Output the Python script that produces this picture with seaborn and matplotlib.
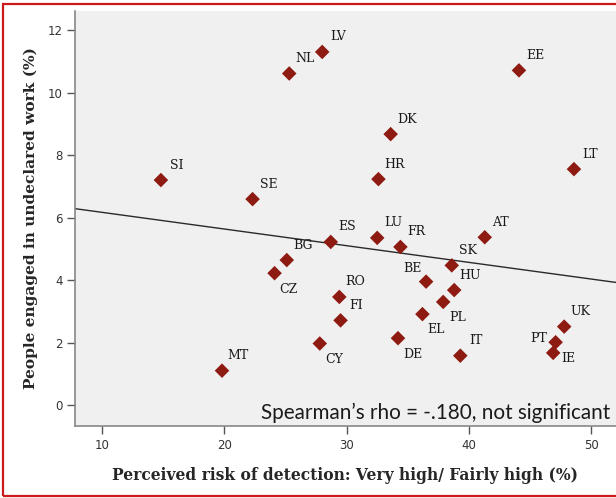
import matplotlib
matplotlib.use("Agg")
import matplotlib.pyplot as plt
import matplotlib.patches as mpatches
import seaborn as sns
import pandas as pd
import numpy as np

countries = ["SI", "SE", "NL", "LV", "DK", "HR", "EE", "LT", "AT", "UK", "PT", "IE",
             "ES", "LU", "FR", "SK", "BG", "CZ", "BE", "HU", "RO", "FI", "PL", "EL",
             "DE", "IT", "CY", "MT"]
risk = [14.8, 22.3, 25.3, 28.0, 33.6, 32.6, 44.1, 48.6, 41.3, 47.8, 47.1, 46.9,
        28.7, 32.5, 34.4, 38.6, 25.1, 24.1, 36.5, 38.8, 29.4, 29.5, 37.9, 36.2,
        34.2, 39.3, 27.8, 19.8]
undeclared = [7.21, 6.60, 10.62, 11.31, 8.68, 7.24, 10.72, 7.56, 5.38, 2.52, 2.02, 1.68,
              5.23, 5.36, 5.07, 4.48, 4.65, 4.23, 3.96, 3.69, 3.47, 2.72, 3.31, 2.92,
              2.15, 1.59, 1.98, 1.11]
x_ticks = [10, 20, 30, 40, 50]
y_ticks = [0, 2, 4, 6, 8, 10, 12]

# label offsets in pixels (style)
label_offsets = {
    "CZ": (14, -16), "PL": (14, -16), "EL": (14, -15), "DE": (15, -16), "CY": (14, -16),
    "IE": (15, -6), "PT": (-17, 4), "BE": (-14, 13),
}
default_offset = (16, 15)

df = pd.DataFrame({"country": countries, "risk": risk, "undeclared": undeclared})

sns.set_style("white")
fig = plt.figure(figsize=(6.16, 4.98), dpi=100)
ax = fig.add_axes([75 / 616, 1 - 426 / 498, 1 - 75 / 616, (426 - 11) / 498])
ax.set_facecolor("#f0f0f0")
ax.set_xlim(7.77, 52.04)
ax.set_ylim(-0.66, 12.62)

sns.regplot(data=df, x="risk", y="undeclared", ax=ax, ci=None, truncate=False,
            scatter=False, line_kws={"color": "#2a2a2a", "lw": 1.0})
sns.scatterplot(data=df, x="risk", y="undeclared", ax=ax, marker="D", s=55,
                color="#8e1b12", edgecolor="none", zorder=3)

for c, xv, yv in zip(countries, risk, undeclared):
    dx, dy = label_offsets.get(c, default_offset)
    ax.annotate(c, (xv, yv), xytext=(dx, dy), textcoords="offset pixels",
                ha="center", va="center", fontsize=9, family="DejaVu Serif",
                color="#1a1a1a")

ax.set_xticks(x_ticks)
ax.set_yticks(y_ticks)
ax.tick_params(axis="both", which="both", direction="out", length=6, width=1,
               color="#555555", labelsize=8.5, labelcolor="#333333", pad=3)
ax.tick_params(left=True, bottom=True)
for s in ["top", "right"]:
    ax.spines[s].set_visible(False)
for s in ["left", "bottom"]:
    ax.spines[s].set_color("#888888")
    ax.spines[s].set_linewidth(1.2)

ax.set_xlabel("Perceived risk of detection: Very high/ Fairly high (%)",
              family="DejaVu Serif", fontweight="bold", fontsize=11.2, labelpad=11)
ax.set_ylabel("People engaged in undeclared work (%)",
              family="DejaVu Serif", fontweight="bold", fontsize=11.1, labelpad=7)

ax.text(0.989, 0.017, "Spearman’s rho = -.180, not significant", transform=ax.transAxes,
        ha="right", va="baseline", fontsize=14.9, family="Lato", color="#1a1a1a")

border = mpatches.Rectangle((3 / 616, 1 - 496 / 498), 1.0, (496 - 4.5) / 498,
                            transform=fig.transFigure, fill=False,
                            edgecolor="#cc1a1a", lw=1.6, clip_on=False)
fig.patches.append(border)

fig.savefig("out.png", dpi=100)
